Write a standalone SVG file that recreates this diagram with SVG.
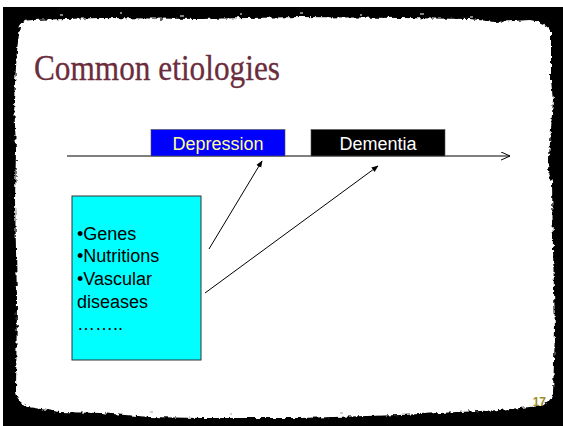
<svg xmlns="http://www.w3.org/2000/svg" width="563" height="426" viewBox="0 0 563 426">
  <style>
    .lbl { font-family: "Liberation Sans", Arial, sans-serif; font-size: 18px; }
    .list { font-family: "Liberation Sans", Arial, sans-serif; font-size: 18px; fill: #000; }
    .conn { stroke: #000; stroke-width: 1; fill: none; }
  </style>
  <defs>
    <filter id="rough" x="-5%" y="-5%" width="110%" height="110%">
      <feTurbulence type="fractalNoise" baseFrequency="0.25" numOctaves="3" seed="4" result="n"/>
      <feDisplacementMap in="SourceGraphic" in2="n" scale="5" xChannelSelector="R" yChannelSelector="G"/>
    </filter>
    <marker id="ah" viewBox="0 0 10 10" refX="9" refY="5" markerWidth="7" markerHeight="7" orient="auto" markerUnits="userSpaceOnUse">
      <path d="M0,1 L10,5 L0,9 z" fill="#000"/>
    </marker>
    <marker id="open" viewBox="0 0 10 10" refX="10" refY="5" markerWidth="9" markerHeight="9" orient="auto" markerUnits="userSpaceOnUse">
      <path d="M0,0.5 L10,5 L0,9.5" fill="none" stroke="#000" stroke-width="1.1"/>
    </marker>
  </defs>

  <!-- background frame -->
  <rect x="0" y="0" width="563" height="426" fill="#fff"/>
  <rect x="3" y="7" width="560" height="419" fill="#000"/>
  <path filter="url(#rough)" fill="#fff" d="M20,26 Q22,20 32,20 L100,18 L200,19 L300,17 L400,18 L470,19 L495,22 L530,20 Q546,22 551,32 L551,80 L553,100 L548,172 L552,182 L553,250 L555,330 L553,393 Q550,404 540,406 L500,410 L400,415 L300,418 L200,418 L150,417 L100,413 L60,412 L28,407 Q17,402 16,392 L17,300 L15,200 L16,150 L14,100 L17,50 Z"/>
  <g fill="#bbb" opacity="0.7">
    <rect x="60" y="14" width="3" height="2"/><rect x="120" y="12" width="2" height="2"/>
    <rect x="180" y="15" width="4" height="2"/><rect x="240" y="13" width="2" height="2"/>
    <rect x="300" y="12" width="3" height="2"/><rect x="360" y="14" width="2" height="2"/>
    <rect x="420" y="13" width="4" height="2"/><rect x="470" y="16" width="3" height="2"/>
    <rect x="150" y="411" width="3" height="2"/><rect x="230" y="413" width="2" height="2"/>
    <rect x="340" y="412" width="3" height="2"/><rect x="460" y="410" width="2" height="2"/>
  </g>

  <!-- title -->
  <text id="title" x="34" y="80" font-family="'Liberation Serif', 'DejaVu Serif', serif" font-size="36" fill="#6B2C3C" stroke="#6B2C3C" stroke-width="0.3" textLength="246" lengthAdjust="spacingAndGlyphs">Common etiologies</text>

  <!-- connectors -->
  <g id="connectors">
    <line class="conn" x1="67" y1="156" x2="510" y2="156" marker-end="url(#open)"/>
    <line class="conn" x1="209" y1="249" x2="262" y2="161" marker-end="url(#ah)"/>
    <line class="conn" x1="205" y1="293" x2="378" y2="166" marker-end="url(#ah)"/>
  </g>

  <g id="depression">
    <rect x="151" y="129.5" width="134" height="26.5" fill="#0000FF" stroke="#555" stroke-width="0.6"/>
    <text class="lbl" x="218" y="150" text-anchor="middle" fill="#FFFF99">Depression</text>
  </g>

  <g id="dementia">
    <rect x="311" y="129.5" width="134" height="26.5" fill="#000" stroke="#555" stroke-width="0.6"/>
    <text class="lbl" x="378" y="150" text-anchor="middle" fill="#fff">Dementia</text>
  </g>

  <g id="causes">
    <rect x="72" y="196" width="129" height="164" fill="#00FFFF" stroke="#333" stroke-width="1"/>
    <text class="list" x="77" y="240">•Genes</text>
    <text class="list" x="77" y="262">•Nutritions</text>
    <text class="list" x="77" y="285">•Vascular</text>
    <text class="list" x="77" y="308">diseases</text>
    <text class="list" x="77" y="330">……..</text>
  </g>

  <text id="pagenum" x="546" y="406" text-anchor="end" font-family="'Liberation Sans', Arial, sans-serif" font-size="12" font-weight="bold" fill="#9C8F2A">17</text>
</svg>
